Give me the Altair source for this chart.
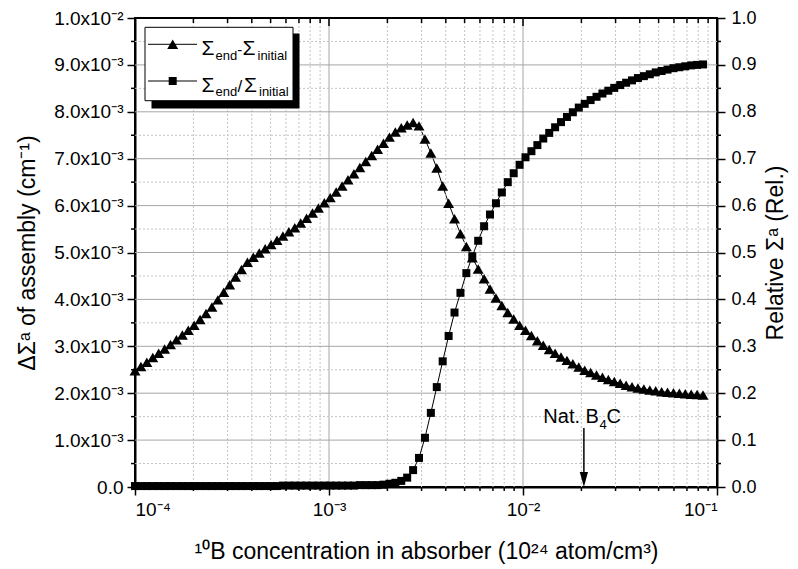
import altair as alt
import pandas as pd

FONT = "Liberation Sans"

# 10B concentration (10^24 atom/cm^3)
conc = [1.000e-4, 1.073e-4, 1.151e-4, 1.235e-4, 1.324e-4, 1.421e-4, 1.524e-4, 1.635e-4, 1.754e-4, 1.882e-4,
        2.018e-4, 2.165e-4, 2.323e-4, 2.492e-4, 2.673e-4, 2.868e-4, 3.076e-4, 3.300e-4, 3.540e-4, 3.798e-4,
        4.074e-4, 4.370e-4, 4.688e-4, 5.029e-4, 5.395e-4, 5.788e-4, 6.209e-4, 6.661e-4, 7.145e-4, 7.665e-4,
        8.222e-4, 8.820e-4, 9.462e-4, 1.015e-3, 1.089e-3, 1.168e-3, 1.253e-3, 1.344e-3, 1.442e-3, 1.547e-3,
        1.660e-3, 1.780e-3, 1.910e-3, 2.049e-3, 2.198e-3, 2.358e-3, 2.529e-3, 2.713e-3, 2.911e-3, 3.123e-3,
        3.350e-3, 3.594e-3, 3.855e-3, 4.136e-3, 4.436e-3, 4.759e-3, 5.105e-3, 5.477e-3, 5.875e-3, 6.303e-3,
        6.761e-3, 7.253e-3, 7.780e-3, 8.347e-3, 8.954e-3, 9.605e-3, 1.030e-2, 1.105e-2, 1.186e-2, 1.272e-2,
        1.365e-2, 1.464e-2, 1.570e-2, 1.685e-2, 1.807e-2, 1.939e-2, 2.080e-2, 2.231e-2, 2.393e-2, 2.567e-2,
        2.754e-2, 2.954e-2, 3.170e-2, 3.400e-2, 3.648e-2, 3.913e-2, 4.198e-2, 4.503e-2, 4.831e-2, 5.182e-2,
        5.559e-2, 5.964e-2, 6.397e-2, 6.863e-2, 7.362e-2, 7.898e-2, 8.472e-2]

# Sigma_end - Sigma_initial, in units of 1e-3 cm^-1
diff_e3 = [2.48, 2.57, 2.66, 2.76, 2.85, 2.94, 3.04, 3.14, 3.24, 3.34,
           3.45, 3.57, 3.70, 3.84, 3.99, 4.15, 4.31, 4.48, 4.64, 4.79,
           4.90, 4.99, 5.08, 5.17, 5.26, 5.35, 5.44, 5.53, 5.63, 5.73,
           5.84, 5.95, 6.06, 6.17, 6.29, 6.42, 6.55, 6.68, 6.81, 6.94,
           7.07, 7.20, 7.33, 7.46, 7.57, 7.66, 7.72, 7.77, 7.70, 7.42,
           7.12, 6.80, 6.42, 6.05, 5.72, 5.40, 5.13, 4.89, 4.65, 4.44,
           4.22, 4.03, 3.87, 3.72, 3.58, 3.45, 3.34, 3.23, 3.12, 3.02,
           2.93, 2.85, 2.77, 2.70, 2.63, 2.56, 2.49, 2.44, 2.39, 2.34,
           2.29, 2.25, 2.21, 2.17, 2.14, 2.11, 2.09, 2.07, 2.05, 2.03,
           2.02, 2.01, 2.00, 1.99, 1.98, 1.97, 1.96]

# Sigma_end / Sigma_initial
ratio = [0.002, 0.002, 0.002, 0.002, 0.002, 0.002, 0.002, 0.002, 0.002, 0.002,
         0.002, 0.002, 0.002, 0.002, 0.002, 0.002, 0.002, 0.002, 0.002, 0.002,
         0.002, 0.002, 0.002, 0.002, 0.002, 0.003, 0.003, 0.003, 0.003, 0.003,
         0.003, 0.003, 0.003, 0.003, 0.003, 0.003, 0.003, 0.003, 0.004, 0.004,
         0.004, 0.004, 0.005, 0.007, 0.009, 0.013, 0.020, 0.036, 0.062, 0.105,
         0.158, 0.213, 0.268, 0.322, 0.372, 0.414, 0.456, 0.492, 0.525, 0.556,
         0.581, 0.605, 0.628, 0.650, 0.669, 0.687, 0.703, 0.716, 0.729, 0.743,
         0.755, 0.767, 0.778, 0.789, 0.799, 0.809, 0.817, 0.825, 0.832, 0.839,
         0.845, 0.851, 0.857, 0.862, 0.867, 0.872, 0.876, 0.880, 0.884, 0.887,
         0.890, 0.893, 0.895, 0.897, 0.899, 0.900, 0.901]

x_major = [1e-4, 1e-3, 1e-2, 1e-1]
x_minor = [2e-4, 3e-4, 4e-4, 5e-4, 6e-4, 7e-4, 8e-4, 9e-4,
           2e-3, 3e-3, 4e-3, 5e-3, 6e-3, 7e-3, 8e-3, 9e-3,
           2e-2, 3e-2, 4e-2, 5e-2, 6e-2, 7e-2, 8e-2, 9e-2]
yl_major = [0, 0.001, 0.002, 0.003, 0.004, 0.005, 0.006, 0.007, 0.008, 0.009, 0.01]
yl_minor = [0.0005, 0.0015, 0.0025, 0.0035, 0.0045, 0.0055, 0.0065, 0.0075, 0.0085, 0.0095]
yr_major = [0, 0.1, 0.2, 0.3, 0.4, 0.5, 0.6, 0.7, 0.8, 0.9, 1.0]
yr_minor = [0.05, 0.15, 0.25, 0.35, 0.45, 0.55, 0.65, 0.75, 0.85, 0.95]
nat_b4c = [0.0206]

df = pd.DataFrame({"conc": conc, "diff": [v * 1e-3 for v in diff_e3], "ratio": ratio})
one = pd.DataFrame({"k": [0]})

W, H = 582, 469
xs = alt.Scale(type="log", domain=[1e-4, 1e-1], nice=False)
yl = alt.Scale(domain=[0, 0.01], nice=False, zero=False)
yr = alt.Scale(domain=[0, 1], nice=False, zero=False)

x_axis = alt.Axis(
    values=x_major,
    labelExpr=("datum.value < 0.00015 ? '10⁻⁴' : datum.value < 0.0015 ? '10⁻³' : "
               "datum.value < 0.015 ? '10⁻²' : '10⁻¹'"),
    tickSize=8, labelPadding=5, labelFontSize=19,
    title="¹⁰B concentration in absorber (10²⁴ atom/cm³)", titleFontSize=23,
    titleX=291, titleY=64, titleBaseline="middle", titleAlign="center",
)
yl_axis = alt.Axis(
    values=yl_major, orient="left",
    labelExpr=("datum.value < 0.0001 ? '0.0' : datum.value > 0.0095 ? '1.0x10⁻²' : "
               "format(datum.value*1000, '.1f') + 'x10⁻³'"),
    tickSize=8, labelPadding=4, labelFontSize=19,
    title="ΔΣᵃ of assembly (cm⁻¹)", titleFontSize=23,
    titleAngle=270, titleX=-108, titleY=234.5, titleAlign="center", titleBaseline="middle",
)
yr_axis = alt.Axis(
    values=yr_major, orient="right", format=".1f",
    tickSize=8, labelPadding=6, labelFontSize=18,
    title="Relative Σᵃ (Rel.)", titleFontSize=23,
    titleAngle=270, titleX=58, titleY=234.5, titleAlign="center", titleBaseline="middle",
)

GRID_SOLID = "#a6a6a6"
GRID_DOT = "#c4c4c4"

X = lambda f: alt.X(f, scale=xs)
YL = lambda f: alt.Y(f, scale=yl)
YR = lambda f: alt.Y(f, scale=yr)

gx_minor = alt.Chart(pd.DataFrame({"g": x_minor})).mark_rule(color=GRID_DOT, strokeWidth=1, strokeDash=[2, 2]).encode(
    x=X("g:Q"))
gx_major = alt.Chart(pd.DataFrame({"g": x_major[1:-1]})).mark_rule(color=GRID_SOLID, strokeWidth=1).encode(
    x=X("g:Q"))
gy_minor = alt.Chart(pd.DataFrame({"g": yl_minor})).mark_rule(color=GRID_DOT, strokeWidth=1, strokeDash=[2, 2]).encode(
    y=YL("g:Q"))
gy_major = alt.Chart(pd.DataFrame({"g": yl_major[1:-1]})).mark_rule(color=GRID_SOLID, strokeWidth=1).encode(
    y=YL("g:Q"))

# minor / mirror ticks
TK = dict(color="black", strokeWidth=1.5)
top_minor = alt.Chart(pd.DataFrame({"g": x_minor})).mark_rule(**TK).encode(
    x=X("g:Q"), y=alt.value(0), y2=alt.value(5))
top_major = alt.Chart(pd.DataFrame({"g": x_major})).mark_rule(**TK).encode(
    x=X("g:Q"), y=alt.value(0), y2=alt.value(8))
bot_minor = alt.Chart(pd.DataFrame({"g": x_minor})).mark_rule(**TK).encode(
    x=X("g:Q"), y=alt.value(H), y2=alt.value(H + 4))
left_minor = alt.Chart(pd.DataFrame({"g": yl_minor})).mark_rule(**TK).encode(
    y=YL("g:Q"), x=alt.value(-4), x2=alt.value(0))
right_minor = alt.Chart(pd.DataFrame({"g": yr_minor})).mark_rule(**TK).encode(
    y=YR("g:Q"), x=alt.value(W), x2=alt.value(W + 4))

base = alt.Chart(df)
tri_line = base.mark_line(color="black", strokeWidth=1).encode(
    x=alt.X("conc:Q", scale=xs, axis=x_axis), y=alt.Y("diff:Q", scale=yl, axis=yl_axis))
tri_pts = base.mark_point(shape="triangle-up", filled=True, color="black", opacity=1, size=120).encode(
    x=X("conc:Q"), y=YL("diff:Q"))

sq_line = base.mark_line(color="black", strokeWidth=1).encode(
    x=X("conc:Q"), y=alt.Y("ratio:Q", scale=yr, axis=yr_axis))
sq_pts = base.mark_point(shape="square", filled=True, color="black", opacity=1, size=64).encode(
    x=X("conc:Q"), y=YR("ratio:Q"))


def label(s, x, y, size, align="left"):
    return alt.Chart(one).mark_text(text=s, font=FONT, fontSize=size, align=align,
                                    baseline="alphabetic", color="black").encode(
        x=alt.value(x), y=alt.value(y))


# legend (drawn by hand)
shadow = alt.Chart(one).mark_rect(fill="black").encode(
    x=alt.value(16.5), x2=alt.value(164.5), y=alt.value(15.5), y2=alt.value(90.5))
box = alt.Chart(one).mark_rect(fill="white", stroke="black", strokeWidth=1).encode(
    x=alt.value(10), x2=alt.value(158), y=alt.value(9.3), y2=alt.value(82.7))
l1 = alt.Chart(one).mark_rule(color="black", strokeWidth=1).encode(
    x=alt.value(13), x2=alt.value(62), y=alt.value(26.3))
m1 = alt.Chart(one).mark_point(shape="triangle-up", filled=True, color="black", opacity=1, size=120).encode(
    x=alt.value(37.7), y=alt.value(26.3))
l2 = alt.Chart(one).mark_rule(color="black", strokeWidth=1).encode(
    x=alt.value(13), x2=alt.value(62), y=alt.value(63))
m2 = alt.Chart(one).mark_point(shape="square", filled=True, color="black", opacity=1, size=64).encode(
    x=alt.value(37.7), y=alt.value(63))
leg_text = [
    label("Σ", 66.5, 37, 21), label("end", 80.5, 41.5, 13), label("-", 102.3, 37, 15),
    label("Σ", 107.5, 37, 21), label("initial", 122.5, 41.5, 13),
    label("Σ", 66.5, 73.7, 21), label("end", 80.5, 78, 13), label("/", 102.5, 73.7, 17),
    label("Σ", 109, 73.7, 21), label("initial", 124, 78, 13),
]

# Nat. B4C annotation
nat = pd.DataFrame({"x": nat_b4c})
arrow_line = alt.Chart(nat).mark_rule(color="black", strokeWidth=1.5).encode(
    x=X("x:Q"), y=alt.value(410), y2=alt.value(456))
arrow_head = alt.Chart(nat).mark_point(shape="M-0.55,-1L0.55,-1L0,1Z", filled=True, color="black",
                                       opacity=1, size=225).encode(
    x=X("x:Q"), y=alt.value(461.5))


def nat_text(s, dx, dy, size, align):
    return alt.Chart(nat).mark_text(text=s, font=FONT, fontSize=size, align=align, baseline="alphabetic",
                                    color="black", dx=dx).encode(
        x=X("x:Q"), y=alt.value(dy))


nat_labels = [nat_text("Nat. B", 15, 404.7, 20, "right"), nat_text("4", 15.5, 411, 13, "left"),
              nat_text("C", 22.5, 404.7, 20, "left")]

left = alt.layer(tri_line, gx_minor, gx_major, gy_minor, gy_major, top_minor, top_major, bot_minor, left_minor,
                 tri_pts)
right = alt.layer(sq_line, right_minor, sq_pts, shadow, box, l1, m1, l2, m2, *leg_text,
                  arrow_line, arrow_head, *nat_labels)

chart = alt.layer(left, right).resolve_scale(y="independent").properties(
    width=W, height=H,
    padding={"left": 127, "top": 10, "right": 73, "bottom": 80},
    autosize=alt.AutoSizeParams(type="none"),
).configure_view(
    stroke="black", strokeWidth=2
).configure_axis(
    labelFont=FONT, labelFontSize=18, labelColor="black",
    titleFont=FONT, titleFontSize=22, titleFontWeight="normal", titleColor="black",
    domainColor="black", domainWidth=2, tickColor="black", tickWidth=1.5, grid=False,
)

chart.save("out.html", embed_options={"renderer": "svg", "actions": False})
